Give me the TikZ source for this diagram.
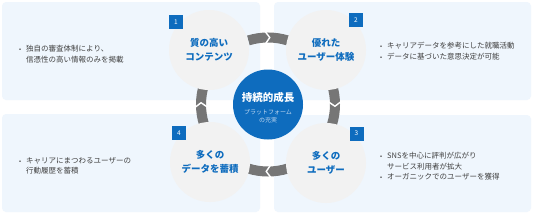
\documentclass[tikz,border=0pt]{standalone}
\usepackage{fontspec}
\setmainfont{Noto Sans CJK JP}
\usetikzlibrary{calc}
\definecolor{panel}{RGB}{239,246,253}
\definecolor{cgray}{RGB}{242,242,242}
\definecolor{mblue}{RGB}{14,108,190}
\definecolor{agray}{RGB}{118,118,118}
\definecolor{txt}{RGB}{64,64,64}
\definecolor{subc}{RGB}{190,215,240}
\newcommand{\bmark}{\makebox[7pt][l]{\raisebox{0.3pt}{\fontsize{6}{6}\selectfont•}}}
\begin{document}
\begin{tikzpicture}[x=1pt,y=1pt,
  panelbox/.style={fill=panel, rounded corners=4pt},
  stagecircle/.style={circle, fill=cgray, minimum size=80pt, inner sep=0pt, align=center, text=mblue, font=\fontsize{9.5}{14}\selectfont\bfseries},
  hub/.style={circle, fill=mblue, minimum size=70pt, inner sep=0pt},
  badge/.style={fill=mblue, minimum size=14pt, inner sep=0pt, text=white, font=\fontsize{6.5}{7}\selectfont},
  band/.style={draw=agray, line width=10pt},
  notch/.style={draw=white, line width=1.4pt},
  bullets/.style={anchor=west, inner sep=0pt, text=txt, font=\fontsize{7.5}{10.5}\selectfont}
]
\useasboundingbox (0,0) rectangle (533,-214);
\fill[white] (0,0) rectangle (533,-214);
% panels
\fill[panelbox] (2,-2) rectangle (260,-100);
\fill[panelbox] (274,-2) rectangle (531,-100);
\fill[panelbox] (2,-114) rectangle (260,-212);
\fill[panelbox] (274,-115) rectangle (531,-212);
% hub
\node[hub] (hub) at (268,-104.5) {};
% cycle arrows
\foreach \a in {90,0,270,180} {
  \draw[band] ($(hub.center)+(\a+17:67)$) arc[start angle=\a+17, end angle=\a-17, radius=67];
  \draw[notch] ($(hub.center)+(\a+2.5:60.5)$) -- ($(hub.center)+(\a-1.5:67)$) -- ($(hub.center)+(\a+2.5:73.5)$);
}
% stage circles
\node[stagecircle] (s1) at (209,-50) {質の高い\\コンテンツ};
\node[stagecircle] (s2) at (326,-50) {優れた\\ユーザー体験};
\node[stagecircle] (s3) at (326,-163) {多くの\\ユーザー};
\node[stagecircle] (s4) at (210,-162) {多くの\\データを蓄積};
% hub text
\node[text=white, font=\fontsize{10.5}{12}\selectfont\bfseries, inner sep=0pt] (title) at (268,-97) {持続的成長};
\node[text=subc, font=\fontsize{6}{8}\selectfont, align=center, inner sep=0pt] (subt) at (268,-116) {プラットフォーム\\の充実};
% badges
\node[badge] (b1) at (176,-22) {1};
\node[badge] (b2) at (356,-20) {2};
\node[badge] (b3) at (356.5,-133.5) {3};
\node[badge] (b4) at (179,-133) {4};
% bullet texts
\node[bullets] (t1) at (19,-55) {\begin{tabular}{@{}l@{}l@{}}\bmark&独自の審査体制により、\\&信憑性の高い情報のみを掲載\end{tabular}};
\node[bullets] (t2) at (380,-52) {\begin{tabular}{@{}l@{}l@{}}\bmark&キャリアデータを参考にした就職活動\\\bmark&データに基づいた意思決定が可能\end{tabular}};
\node[bullets] (t4) at (19,-166.5) {\begin{tabular}{@{}l@{}l@{}}\bmark&キャリアにまつわるユーザーの\\&行動履歴を蓄積\end{tabular}};
\node[bullets] (t3) at (380,-167) {\begin{tabular}{@{}l@{}l@{}}\bmark&SNSを中心に評判が広がり\\&サービス利用者が拡大\\\bmark&オーガニックでのユーザーを獲得\end{tabular}};
\end{tikzpicture}
\end{document}
